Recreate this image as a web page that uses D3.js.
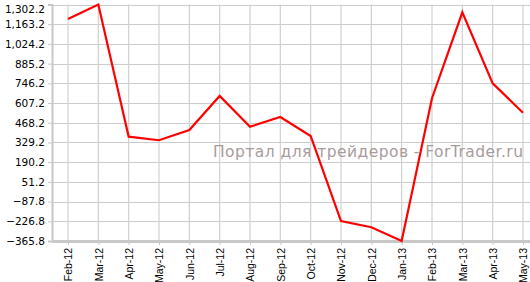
<!DOCTYPE html>
<html><head><meta charset="utf-8">
<script src="https://cdn.jsdelivr.net/npm/d3@7"></script>
<style>body{margin:0;background:#fff;}svg{display:block;}</style>
</head><body>
<script>
const months = ["Feb-12","Mar-12","Apr-12","May-12","Jun-12","Jul-12","Aug-12","Sep-12","Oct-12","Nov-12","Dec-12","Jan-13","Feb-13","Mar-13","Apr-13","May-13"];
const values = [1200, 1302.2, 370, 345, 417, 657, 440, 509, 375, -225, -269, -365.8, 641, 1247, 746, 539];
const yTicks = [-365.8,-226.8,-87.8,51.2,190.2,329.2,468.2,607.2,746.2,885.2,1024.2,1163.2,1302.2];
const watermark = "Портал для трейдеров - ForTrader.ru";

(function(){
const W=530,H=282;
const svg=d3.select("body").append("svg").attr("width",W).attr("height",H);
const mLeft=52, mTop=4.5, mBottom=241;
const x=d3.scalePoint().domain(months).range([68,523]);
const y=d3.scaleLinear().domain([-365.8,1302.2]).range([mBottom,mTop]);

// horizontal grid
svg.append("g").selectAll("line").data(yTicks).join("line")
 .attr("x1",mLeft).attr("x2",W).attr("y1",d=>Math.round(y(d))+0.5).attr("y2",d=>Math.round(y(d))+0.5)
 .attr("stroke","#cccccc").attr("stroke-width",1);
// vertical grid
svg.append("g").selectAll("line").data(months).join("line")
 .attr("x1",d=>x(d)).attr("x2",d=>x(d)).attr("y1",mTop).attr("y2",mBottom)
 .attr("stroke","#d0d0d0").attr("stroke-width",1.2);

// watermark
svg.append("text").attr("x",213).attr("y",157).attr("text-anchor","start")
 .attr("font-family","DejaVu Sans, Verdana, sans-serif").attr("font-size",15.5)
 .attr("textLength",310).attr("lengthAdjust","spacing")
 .attr("fill","#a89c9c").text(watermark);

// y axis
const ya=svg.append("g").attr("transform",`translate(${mLeft},0)`)
 .call(d3.axisLeft(y).tickValues(yTicks).tickSize(4).tickPadding(3).tickFormat(d3.format(",.1f")));
ya.select(".domain").attr("stroke","#c8c8c8").attr("stroke-width",2);
ya.selectAll(".tick line").attr("stroke","#c8c8c8");
ya.selectAll("text").attr("font-family","DejaVu Sans, Verdana, sans-serif").attr("font-size",10.5).attr("fill","#000");
ya.selectAll(".tick").filter(d=>d===yTicks[yTicks.length-1]).select("text").attr("dy","0.75em");

// x axis
const xa=svg.append("g").attr("transform",`translate(0,${mBottom})`)
 .call(d3.axisBottom(x).tickSize(4).tickPadding(3));
xa.select(".domain").attr("d",`M${mLeft},0.5H${W}`).attr("stroke","#c8c8c8").attr("stroke-width",3);
xa.selectAll(".tick line").attr("stroke","#c8c8c8");
xa.selectAll("text").attr("font-family","Liberation Sans, Arial, sans-serif").attr("font-size",10.5).attr("fill","#000")
 .attr("transform","rotate(-90)").attr("text-anchor","end").attr("dy","0.35em").attr("x",-7).attr("y",0);

// line
svg.append("path").datum(values.map((v,i)=>[months[i],v]))
 .attr("fill","none").attr("stroke","#ff0000").attr("stroke-width",2.2).attr("stroke-linejoin","miter")
 .attr("d",d3.line().x(d=>x(d[0])).y(d=>y(d[1])));
})();
</script>
</body></html>
